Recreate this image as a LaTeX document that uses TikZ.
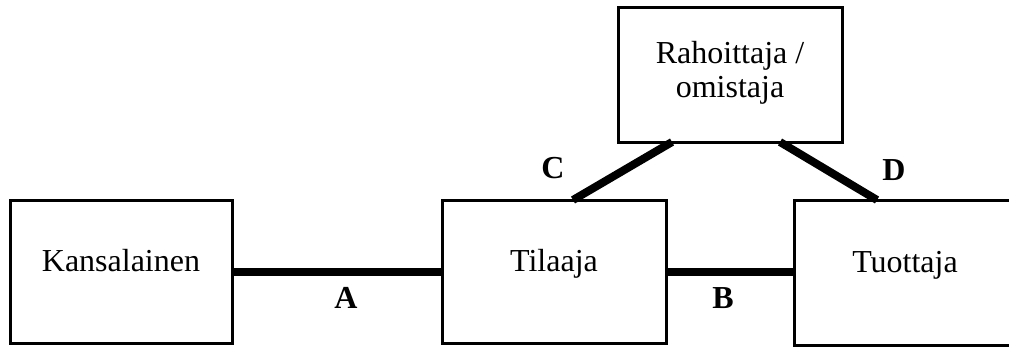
\documentclass[tikz,border=0pt]{standalone}
\usepackage{fontspec}
\setmainfont{Liberation Serif}
\usetikzlibrary{calc}
\begin{document}
\begin{tikzpicture}[x=0.75pt,y=-0.75pt,
  box/.style={draw, line width=2.25pt, inner sep=0pt, outer sep=0pt,
    font=\fontsize{24}{25.5}\selectfont, text height=8pt, text depth=8pt},
  link/.style={line width=6pt},
  letter/.style={font=\fontsize{24}{25.5}\selectfont\bfseries, inner sep=0pt}]
\useasboundingbox (0,0) rectangle (1009,347);

% actors
\node[box, minimum width=222*0.75pt, minimum height=143*0.75pt] (kans) at (121,271.5) {Kansalainen};
\node[box, minimum width=224*0.75pt, minimum height=143*0.75pt] (tila) at (554,271.5) {Tilaaja};
\node[box, minimum width=222*0.75pt, minimum height=145*0.75pt] (tuot) at (905,272.5) {Tuottaja};
\node[box, minimum width=224*0.75pt, minimum height=135*0.75pt, align=center,
  text height=33.75pt, text depth=0pt] (raho) at (730,74.5) {Rahoittaja /\\omistaja};

% relations
\draw[link] (kans.east) -- (tila.west);
\draw[link] (tila.east) -- (tila.east -| tuot.west);
\draw[link] ($(tila.north west)+(131,0)$) -- ($(raho.south west)+(54,0)$);
\draw[link] ($(raho.south west)+(162,0)$) -- ($(tuot.north west)+(83,0)$);

% relation letters
\node[letter] (la) at (346,298) {A};
\node[letter] (lb) at (723,298) {B};
\node[letter] (lc) at (553,168) {C};
\node[letter] (ld) at (894,170) {D};
\end{tikzpicture}
\end{document}
